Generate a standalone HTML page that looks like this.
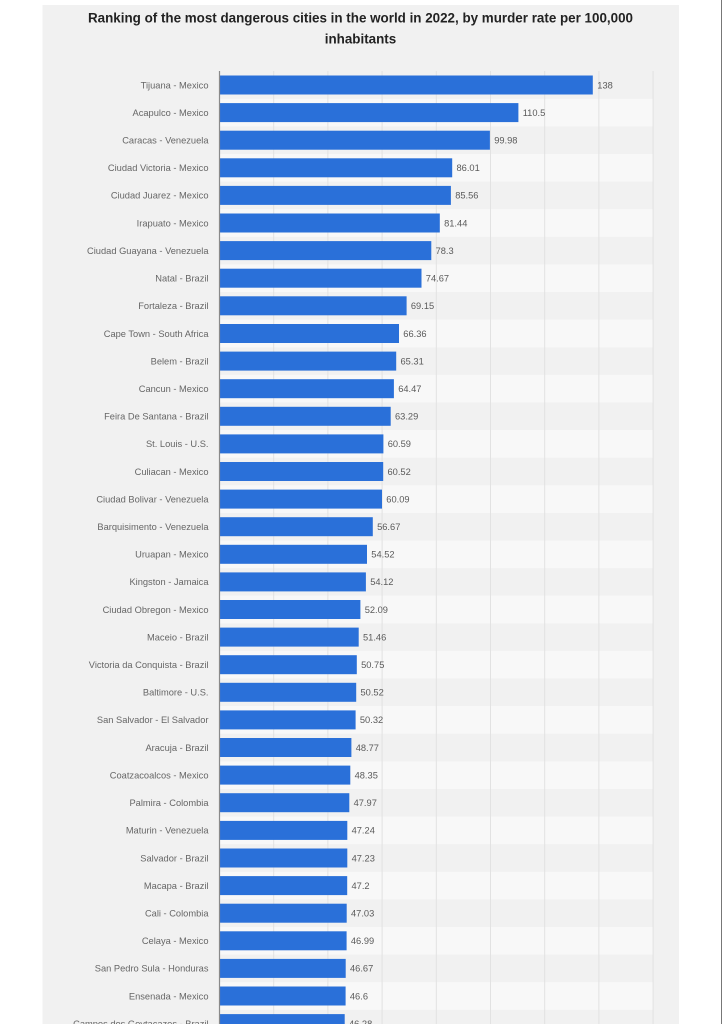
<!DOCTYPE html>
<html>
<head>
<meta charset="utf-8">
<style>
  html, body { margin: 0; padding: 0; background: #ffffff; }
  body { width: 722px; height: 1024px; overflow: hidden; position: relative; }
  svg { display: block; }
</style>
</head>
<body>
<svg width="722" height="1024" viewBox="0 0 722 1024" xmlns="http://www.w3.org/2000/svg" font-family="'Liberation Sans', Arial, sans-serif">
  <rect x="0" y="0" width="722" height="1024" fill="#ffffff"/>
  <!-- panel -->
  <rect x="42.5" y="5" width="636.5" height="1030" fill="#f1f1f1"/>
  <line x1="721.5" y1="0" x2="721.5" y2="1024" stroke="#777" stroke-width="1"/>

  <!-- title -->
  <text x="360.5" y="22.5" text-anchor="middle" font-size="13.4" font-weight="bold" fill="#222" textLength="545" lengthAdjust="spacingAndGlyphs">Ranking of the most dangerous cities in the world in 2022, by murder rate per 100,000</text>
  <text x="360.5" y="43.5" text-anchor="middle" font-size="13.4" font-weight="bold" fill="#222">inhabitants</text>

  <!-- bands (odd rows lighter) -->
  <g fill="#f8f8f8">
    <rect x="219.5" y="98.8" width="434" height="27.6"/>
    <rect x="219.5" y="154.0" width="434" height="27.6"/>
    <rect x="219.5" y="209.2" width="434" height="27.6"/>
    <rect x="219.5" y="264.4" width="434" height="27.6"/>
    <rect x="219.5" y="319.7" width="434" height="27.6"/>
    <rect x="219.5" y="374.9" width="434" height="27.6"/>
    <rect x="219.5" y="430.1" width="434" height="27.6"/>
    <rect x="219.5" y="485.3" width="434" height="27.6"/>
    <rect x="219.5" y="540.5" width="434" height="27.6"/>
    <rect x="219.5" y="595.7" width="434" height="27.6"/>
    <rect x="219.5" y="650.9" width="434" height="27.6"/>
    <rect x="219.5" y="706.1" width="434" height="27.6"/>
    <rect x="219.5" y="761.4" width="434" height="27.6"/>
    <rect x="219.5" y="816.6" width="434" height="27.6"/>
    <rect x="219.5" y="871.8" width="434" height="27.6"/>
    <rect x="219.5" y="927.0" width="434" height="27.6"/>
    <rect x="219.5" y="982.2" width="434" height="27.6"/>
  </g>

  <!-- gridlines -->
  <g stroke="#e2e2e2" stroke-width="1">
    <line x1="273.7" y1="71" x2="273.7" y2="1024"/>
    <line x1="327.9" y1="71" x2="327.9" y2="1024"/>
    <line x1="382.1" y1="71" x2="382.1" y2="1024"/>
    <line x1="436.3" y1="71" x2="436.3" y2="1024"/>
    <line x1="490.5" y1="71" x2="490.5" y2="1024"/>
    <line x1="544.7" y1="71" x2="544.7" y2="1024"/>
    <line x1="598.9" y1="71" x2="598.9" y2="1024"/>
    <line x1="653.1" y1="71" x2="653.1" y2="1024"/>
  </g>

  <!-- bars -->
  <g fill="#2a70d9">
    <rect x="219.5" y="75.5" width="373.3" height="19"/>
    <rect x="219.5" y="103.1" width="298.9" height="19"/>
    <rect x="219.5" y="130.7" width="270.4" height="19"/>
    <rect x="219.5" y="158.3" width="232.7" height="19"/>
    <rect x="219.5" y="185.9" width="231.4" height="19"/>
    <rect x="219.5" y="213.5" width="220.3" height="19"/>
    <rect x="219.5" y="241.1" width="211.8" height="19"/>
    <rect x="219.5" y="268.7" width="202.0" height="19"/>
    <rect x="219.5" y="296.3" width="187.1" height="19"/>
    <rect x="219.5" y="324.0" width="179.5" height="19"/>
    <rect x="219.5" y="351.6" width="176.7" height="19"/>
    <rect x="219.5" y="379.2" width="174.4" height="19"/>
    <rect x="219.5" y="406.8" width="171.2" height="19"/>
    <rect x="219.5" y="434.4" width="163.9" height="19"/>
    <rect x="219.5" y="462.0" width="163.7" height="19"/>
    <rect x="219.5" y="489.6" width="162.5" height="19"/>
    <rect x="219.5" y="517.2" width="153.3" height="19"/>
    <rect x="219.5" y="544.8" width="147.5" height="19"/>
    <rect x="219.5" y="572.4" width="146.4" height="19"/>
    <rect x="219.5" y="600.0" width="140.9" height="19"/>
    <rect x="219.5" y="627.6" width="139.2" height="19"/>
    <rect x="219.5" y="655.2" width="137.3" height="19"/>
    <rect x="219.5" y="682.8" width="136.7" height="19"/>
    <rect x="219.5" y="710.4" width="136.1" height="19"/>
    <rect x="219.5" y="738.0" width="131.9" height="19"/>
    <rect x="219.5" y="765.6" width="130.8" height="19"/>
    <rect x="219.5" y="793.2" width="129.8" height="19"/>
    <rect x="219.5" y="820.9" width="127.8" height="19"/>
    <rect x="219.5" y="848.5" width="127.8" height="19"/>
    <rect x="219.5" y="876.1" width="127.7" height="19"/>
    <rect x="219.5" y="903.7" width="127.2" height="19"/>
    <rect x="219.5" y="931.3" width="127.1" height="19"/>
    <rect x="219.5" y="958.9" width="126.2" height="19"/>
    <rect x="219.5" y="986.5" width="126.1" height="19"/>
    <rect x="219.5" y="1014.1" width="125.2" height="19"/>
  </g>

  <!-- axis line -->
  <line x1="219.5" y1="71" x2="219.5" y2="1024" stroke="#8a8a8a" stroke-width="1.2"/>

  <!-- category labels -->
  <g font-size="9.3" fill="#666" text-anchor="end">
    <text x="208.5" y="88.3">Tijuana - Mexico</text>
    <text x="208.5" y="115.9">Acapulco - Mexico</text>
    <text x="208.5" y="143.5">Caracas - Venezuela</text>
    <text x="208.5" y="171.1">Ciudad Victoria - Mexico</text>
    <text x="208.5" y="198.7">Ciudad Juarez - Mexico</text>
    <text x="208.5" y="226.3">Irapuato - Mexico</text>
    <text x="208.5" y="253.9">Ciudad Guayana - Venezuela</text>
    <text x="208.5" y="281.5">Natal - Brazil</text>
    <text x="208.5" y="309.1">Fortaleza - Brazil</text>
    <text x="208.5" y="336.8">Cape Town - South Africa</text>
    <text x="208.5" y="364.4">Belem - Brazil</text>
    <text x="208.5" y="392.0">Cancun - Mexico</text>
    <text x="208.5" y="419.6">Feira De Santana - Brazil</text>
    <text x="208.5" y="447.2">St. Louis - U.S.</text>
    <text x="208.5" y="474.8">Culiacan - Mexico</text>
    <text x="208.5" y="502.4">Ciudad Bolivar - Venezuela</text>
    <text x="208.5" y="530.0">Barquisimento - Venezuela</text>
    <text x="208.5" y="557.6">Uruapan - Mexico</text>
    <text x="208.5" y="585.2">Kingston - Jamaica</text>
    <text x="208.5" y="612.8">Ciudad Obregon - Mexico</text>
    <text x="208.5" y="640.4">Maceio - Brazil</text>
    <text x="208.5" y="668.0">Victoria da Conquista - Brazil</text>
    <text x="208.5" y="695.6">Baltimore - U.S.</text>
    <text x="208.5" y="723.2">San Salvador - El Salvador</text>
    <text x="208.5" y="750.8">Aracuja - Brazil</text>
    <text x="208.5" y="778.4">Coatzacoalcos - Mexico</text>
    <text x="208.5" y="806.0">Palmira - Colombia</text>
    <text x="208.5" y="833.7">Maturin - Venezuela</text>
    <text x="208.5" y="861.3">Salvador - Brazil</text>
    <text x="208.5" y="888.9">Macapa - Brazil</text>
    <text x="208.5" y="916.5">Cali - Colombia</text>
    <text x="208.5" y="944.1">Celaya - Mexico</text>
    <text x="208.5" y="971.7">San Pedro Sula - Honduras</text>
    <text x="208.5" y="999.3">Ensenada - Mexico</text>
    <text x="208.5" y="1026.9">Campos dos Goytacazes - Brazil</text>
  </g>

  <!-- value labels -->
  <g font-size="9.3" fill="#5a5a5a">
    <text x="597.3" y="88.3">138</text>
    <text x="522.7" y="115.9">110.5</text>
    <text x="494.2" y="143.5">99.98</text>
    <text x="456.5" y="171.1">86.01</text>
    <text x="455.2" y="198.7">85.56</text>
    <text x="444.1" y="226.3">81.44</text>
    <text x="435.6" y="253.9">78.3</text>
    <text x="425.8" y="281.5">74.67</text>
    <text x="410.9" y="309.1">69.15</text>
    <text x="403.3" y="336.8">66.36</text>
    <text x="400.5" y="364.4">65.31</text>
    <text x="398.2" y="392.0">64.47</text>
    <text x="395.0" y="419.6">63.29</text>
    <text x="387.7" y="447.2">60.59</text>
    <text x="387.5" y="474.8">60.52</text>
    <text x="386.3" y="502.4">60.09</text>
    <text x="377.1" y="530.0">56.67</text>
    <text x="371.3" y="557.6">54.52</text>
    <text x="370.2" y="585.2">54.12</text>
    <text x="364.7" y="612.8">52.09</text>
    <text x="363.0" y="640.4">51.46</text>
    <text x="361.1" y="668.0">50.75</text>
    <text x="360.5" y="695.6">50.52</text>
    <text x="359.9" y="723.2">50.32</text>
    <text x="355.7" y="750.8">48.77</text>
    <text x="354.6" y="778.4">48.35</text>
    <text x="353.6" y="806.0">47.97</text>
    <text x="351.6" y="833.7">47.24</text>
    <text x="351.6" y="861.3">47.23</text>
    <text x="351.5" y="888.9">47.2</text>
    <text x="351.0" y="916.5">47.03</text>
    <text x="350.9" y="944.1">46.99</text>
    <text x="350.0" y="971.7">46.67</text>
    <text x="349.9" y="999.3">46.6</text>
    <text x="349.0" y="1026.9">46.28</text>
  </g>
</svg>
</body>
</html>
